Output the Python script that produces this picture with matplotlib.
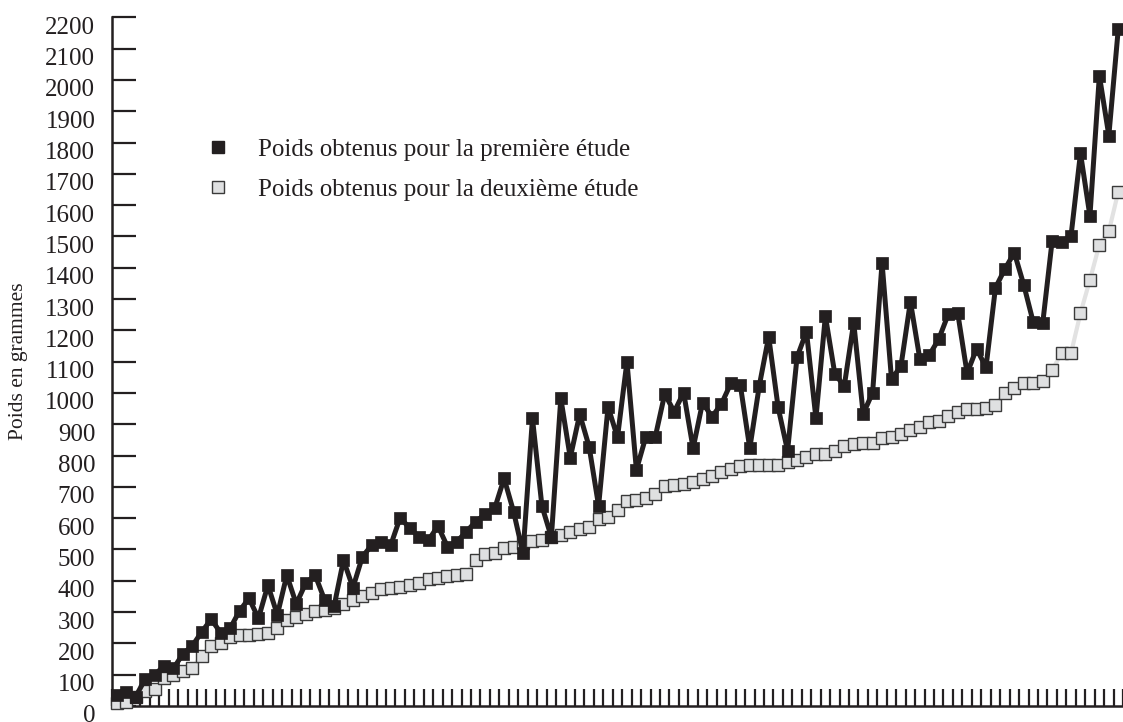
import numpy as np
import matplotlib
matplotlib.use("Agg")
import matplotlib.pyplot as plt
from matplotlib.lines import Line2D
from matplotlib.transforms import ScaledTranslation

# ---- data -------------------------------------------------------------
etude1 = [35, 46, 30, 85, 99, 128, 120, 166, 192, 237,
          277, 234, 248, 304, 344, 280, 386, 291, 418, 326,
          392, 418, 339, 318, 466, 378, 477, 514, 525, 514,
          602, 568, 541, 530, 575, 509, 525, 557, 589, 613,
          631, 727, 621, 488, 919, 639, 539, 983, 793, 932,
          828, 639, 956, 858, 1100, 754, 860, 860, 997, 940,
          1001, 823, 969, 924, 965, 1031, 1025, 823, 1022, 1180,
          954, 815, 1114, 1196, 919, 1246, 1061, 1022, 1225, 933,
          1001, 1416, 1044, 1086, 1292, 1108, 1121, 1172, 1251, 1257,
          1063, 1141, 1082, 1336, 1396, 1448, 1345, 1226, 1222, 1486,
          1483, 1502, 1766, 1565, 2014, 1822, 2163]

etude2 = [8, 14, 28, 47, 53, 88, 98, 113, 122, 161,
          193, 200, 222, 228, 228, 231, 234, 250, 275, 283,
          294, 304, 308, 313, 325, 339, 351, 362, 373, 376,
          381, 387, 392, 405, 410, 415, 418, 422, 466, 485,
          488, 504, 507, 520, 528, 530, 541, 546, 557, 565,
          571, 597, 605, 626, 656, 658, 663, 676, 703, 706,
          708, 717, 725, 735, 749, 757, 767, 770, 770, 770,
          770, 780, 786, 794, 805, 805, 816, 829, 837, 839,
          841, 855, 860, 870, 881, 892, 908, 911, 926, 938,
          948, 949, 951, 962, 999, 1017, 1031, 1033, 1039, 1073,
          1127, 1127, 1255, 1361, 1474, 1516, 1643]

y_ticks = list(range(0, 2201, 100))
label1 = "Poids obtenus pour la première étude"
label2 = "Poids obtenus pour la deuxième étude"
y_label = "Poids en grammes"

# ---- figure -----------------------------------------------------------
W, H = 1123, 722
fig = plt.figure(figsize=(W / 100, H / 100), dpi=100)
plt.rcParams['font.family'] = ['Liberation Serif', 'DejaVu Serif']

left_px, right_px, bottom_px, top_px = 112, 1123, 706, 17.3
ax = fig.add_axes([left_px / W, (H - bottom_px) / H,
                   (right_px - left_px) / W, (bottom_px - top_px) / H])

x = np.arange(len(etude1))
dark = '#231f20'

ax.plot(x, etude2, color='#e2e2e2', lw=3.0, marker='s', ms=8.2,
        mfc='#dfe0e1', mec='#3a3a3a', mew=1.0, zorder=3, clip_on=False)
ax.plot(x, etude1, color=dark, lw=3.6, marker='s', ms=8.8,
        mfc=dark, mec=dark, mew=0.5, zorder=4, clip_on=False)

step_px = 9.47
ax.set_xlim(-0.5, -0.5 + (right_px - left_px) / step_px)
ax.set_ylim(0, 2200)

ax.set_xticks(np.arange(len(etude1) + 1) - 0.5)
ax.set_xticklabels([])
ax.set_yticks(y_ticks)
ax.set_yticklabels([str(v) for v in y_ticks], fontsize=18)

ax.tick_params(axis='x', direction='in', length=12.5, width=1.6, color=dark)
ax.tick_params(axis='y', direction='in', length=17.5, width=1.6, color=dark,
               pad=12, labelcolor=dark)

off = ScaledTranslation(0, -0.08, fig.dpi_scale_trans)
for lab in ax.get_yticklabels():
    lab.set_transform(lab.get_transform() + off)

for s in ('top', 'right'):
    ax.spines[s].set_visible(False)
for s in ('left', 'bottom'):
    ax.spines[s].set_linewidth(1.8)
    ax.spines[s].set_color(dark)

ax.set_ylabel(y_label, fontsize=15.5, color=dark)
ax.yaxis.set_label_coords((28 - left_px) / (right_px - left_px), 0.50)

handles = [
    Line2D([], [], linestyle='none', marker='s', ms=8.8, mfc=dark, mec=dark),
    Line2D([], [], linestyle='none', marker='s', ms=8.6, mfc='#dfe0e1',
           mec='#3a3a3a', mew=1.0),
]
leg = ax.legend(handles, [label1, label2], frameon=False, fontsize=18,
                loc='upper left', borderpad=0, handlelength=1.0,
                handletextpad=1.1, labelspacing=0.7,
                bbox_to_anchor=(192.5 / W, (H - 126) / H),
                bbox_transform=fig.transFigure)
for t in leg.get_texts():
    t.set_color(dark)

fig.savefig("out.png", dpi=100)
